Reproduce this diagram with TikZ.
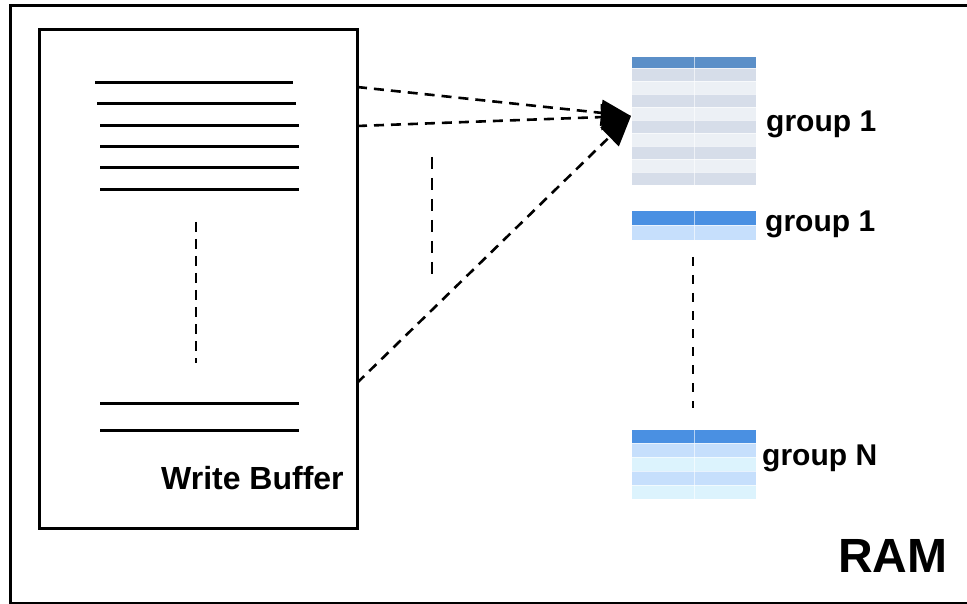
\documentclass[tikz,border=0pt]{standalone}
\usepackage{fontspec}
\setmainfont{Liberation Sans}
\usetikzlibrary{arrows.meta}
\definecolor{hdrA}{HTML}{5B8FC8}
\definecolor{rowA1}{HTML}{D6DDE9}
\definecolor{rowA2}{HTML}{ECF0F5}
\definecolor{hdrB}{HTML}{4A90E2}
\definecolor{rowB1}{HTML}{C6DFFC}
\definecolor{rowB2}{HTML}{DCF3FD}
\tikzset{
  frame/.style={draw=black, line width=3pt},
  textline/.style={draw=black, line width=3pt},
  gap/.style={draw=black, line width=2.7pt, dash pattern=on 10pt off 7pt},
  link/.style={draw=black, line width=2.6pt, dash pattern=on 10pt off 7pt,
    -{Triangle[length=30pt,width=26pt]}},
  lbl/.style={font=\bfseries\fontsize{30}{31}\selectfont, anchor=base west, inner sep=0pt},
  cellsep/.style={draw=white, line width=0.8pt, opacity=0.6}
}
\begin{document}
\begin{tikzpicture}[x=1pt, y=-1pt]
\useasboundingbox (0,0) rectangle (967,604);
\fill[white] (0,0) rectangle (967,604);

% RAM frame (runs past the right edge)
\draw[frame] (10,6) rectangle (990,603);
\node[lbl, font=\bfseries\fontsize{48}{50}\selectfont] (ram) at (838,572) {RAM};

% write buffer
\draw[frame] (39,30) rectangle (357,528);
\draw[textline] (95,83) -- (293,83);
\draw[textline] (97,104) -- (296,104);
\draw[textline] (100,126) -- (299,126);
\draw[textline] (100,147) -- (299,147);
\draw[textline] (100,168) -- (299,168);
\draw[textline] (100,190) -- (299,190);
\draw[textline] (100,403) -- (299,403);
\draw[textline] (100,430) -- (299,430);
\coordinate (bgapA) at (196,222);
\coordinate (bgapB) at (196,363);
\draw[gap] (bgapA) -- (bgapB);
\node[lbl, font=\bfseries\fontsize{32}{33}\selectfont] (wb) at (161,489) {Write Buffer};

% group 1 (full table)
\fill[hdrA] (632,57) rectangle (756,68);
\foreach \i in {0,...,8}{
  \pgfmathsetmacro{\ya}{68+13*\i}
  \pgfmathsetmacro{\yb}{81+13*\i}
  \ifodd\i \fill[rowA2] (632,\ya) rectangle (756,\yb);
  \else \fill[rowA1] (632,\ya) rectangle (756,\yb); \fi
  \draw[cellsep] (632,\ya) -- (756,\ya);
}
\draw[cellsep] (694,57) -- (694,185);
\coordinate (tgt) at (631,116);
\node[lbl] (g1a) at (766,132) {group 1};

% group 1 (short table)
\fill[hdrB] (632,211) rectangle (756,225);
\fill[rowB1] (632,225) rectangle (756,240);
\draw[cellsep] (632,225) -- (756,225);
\draw[cellsep] (694,211) -- (694,240);
\node[lbl] (g1b) at (765,232) {group 1};

% gap between groups
\coordinate (ggapA) at (693,257);
\coordinate (ggapB) at (693,408);
\draw[gap, dash pattern=on 9pt off 9pt, line width=2.3pt] (ggapA) -- (ggapB);

% group N
\fill[hdrB] (632,430) rectangle (756,443);
\fill[rowB1] (632,443) rectangle (756,457);
\fill[rowB2] (632,457) rectangle (756,471);
\fill[rowB1] (632,471) rectangle (756,485);
\fill[rowB2] (632,485) rectangle (756,499);
\foreach \y in {443,457,471,485} \draw[cellsep] (632,\y) -- (756,\y);
\draw[cellsep] (694,430) -- (694,499);
\node[lbl] (gN) at (762,465) {group N};

% links from buffer lines to group 1
\coordinate (srcA) at (357,87);
\coordinate (srcB) at (357,126);
\coordinate (srcC) at (357,383);
\coordinate (mgapA) at (432,157);
\coordinate (mgapB) at (432,274);
\draw[gap, dash pattern=on 12pt off 9pt] (mgapA) -- (mgapB);
\draw[link] (srcA) -- (tgt);
\draw[link] (srcB) -- (tgt);
\draw[link] (srcC) -- (tgt);
\end{tikzpicture}
\end{document}
